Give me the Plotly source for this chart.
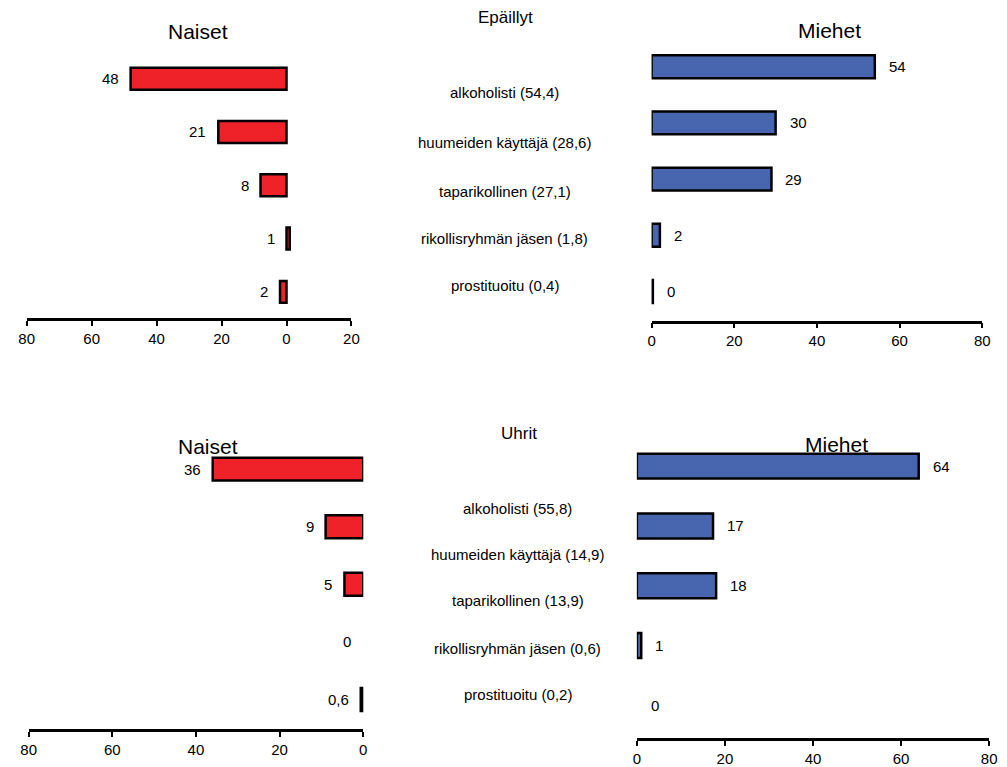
import plotly.graph_objects as go

# ---------------- data ----------------
categories_epaillyt = ["alkoholisti (54,4)", "huumeiden käyttäjä (28,6)", "taparikollinen (27,1)",
                       "rikollisryhmän jäsen (1,8)", "prostituoitu (0,4)"]
categories_uhrit = ["alkoholisti (55,8)", "huumeiden käyttäjä (14,9)", "taparikollinen (13,9)",
                    "rikollisryhmän jäsen (0,6)", "prostituoitu (0,2)"]

naiset_epaillyt = [48, 21, 8, -1, 2]
naiset_epaillyt_labels = ["48", "21", "8", "1", "2"]
miehet_epaillyt = [54, 30, 29, 2, 0.3]
miehet_epaillyt_labels = ["54", "30", "29", "2", "0"]

naiset_uhrit = [36, 9, 4.5, 0, 0.6]
naiset_uhrit_labels = ["36", "9", "5", "0", "0,6"]
miehet_uhrit = [64, 17.3, 18, 1, 0]
miehet_uhrit_labels = ["64", "17", "18", "1", "0"]

ticks_left_top = [80, 60, 40, 20, 0, -20]
ticks_left_top_text = ["80", "60", "40", "20", "0", "20"]
ticks_left_bottom = [80, 60, 40, 20, 0]
ticks_left_bottom_text = ["80", "60", "40", "20", "0"]
ticks_right = [0, 20, 40, 60, 80]
ticks_right_text = ["0", "20", "40", "60", "80"]

# ---------------- layout helpers ----------------
W, H = 1007, 767
RED = "#EE2228"
BLUE = "#4866AF"
FONT = "Liberation Sans, Arial, sans-serif"


def px(x):
    return x / W


def py(y):
    return 1 - y / H


panels = [
    dict(k="", vals=naiset_epaillyt, labs=naiset_epaillyt_labels, color=RED, side="left",
         xdom=(19, 349), xrange=[80, -20], tv=ticks_left_top, tt=ticks_left_top_text,
         axis_y=319, c0=79, sp=53.5, bh=22, title="Naiset", tpos=(193, 32)),
    dict(k="2", vals=miehet_epaillyt, labs=miehet_epaillyt_labels, color=BLUE, side="right",
         xdom=(654, 990), xrange=[0, 80], tv=ticks_right, tt=ticks_right_text,
         axis_y=322, c0=67, sp=56.4, bh=23, title="Miehet", tpos=(835, 31)),
    dict(k="3", vals=naiset_uhrit, labs=naiset_uhrit_labels, color=RED, side="left",
         xdom=(21, 361), xrange=[80, 0], tv=ticks_left_bottom, tt=ticks_left_bottom_text,
         axis_y=732, c0=471, sp=57.8, bh=23, title="Naiset", tpos=(203, 448)),
    dict(k="4", vals=miehet_uhrit, labs=miehet_uhrit_labels, color=BLUE, side="right",
         xdom=(639, 997), xrange=[0, 80], tv=ticks_right, tt=ticks_right_text,
         axis_y=741, c0=468, sp=60, bh=25, title="Miehet", tpos=(842, 446)),
]

fig = go.Figure()
annotations = []
layout = dict(
    width=W, height=H, margin=dict(l=0, r=0, t=0, b=0),
    paper_bgcolor="white", plot_bgcolor="white", showlegend=False,
    font=dict(family=FONT, color="black", size=15),
)

for p in panels:
    k = p["k"]
    idx = list(range(len(p["vals"])))
    line_w = [0 if v == 0 else 2.5 for v in p["vals"]]
    fig.add_trace(go.Bar(
        x=p["vals"], y=idx, orientation="h", width=p["bh"] / p["sp"],
        marker=dict(color=p["color"], line=dict(color="black", width=line_w)),
        xaxis="x" + k, yaxis="y" + k, hoverinfo="skip",
    ))
    bottom = (p["axis_y"] - p["c0"]) / p["sp"]
    top_px = p["c0"] - 0.6 * p["sp"]
    layout["xaxis" + k] = dict(
        domain=[px(p["xdom"][0]), px(p["xdom"][1])], range=p["xrange"],
        anchor="y" + k, tickvals=p["tv"], ticktext=p["tt"],
        showline=True, linecolor="black", linewidth=2.5,
        ticks="outside", ticklen=5, tickwidth=2, tickcolor="black",
        showgrid=False, zeroline=False, tickfont=dict(size=15, family=FONT),
        fixedrange=True,
    )
    layout["yaxis" + k] = dict(
        domain=[py(p["axis_y"]), py(top_px)], range=[bottom, -0.6],
        anchor="x" + k, visible=False, showgrid=False, zeroline=False, fixedrange=True,
    )
    for i, (v, lab) in enumerate(zip(p["vals"], p["labs"])):
        if p["side"] == "left":
            annotations.append(dict(
                x=max(v, 0), y=i, xref="x" + k, yref="y" + k, text=lab,
                showarrow=False, xanchor="right", yanchor="middle", xshift=-10,
                font=dict(size=15, family=FONT),
            ))
        else:
            annotations.append(dict(
                x=max(v, 0), y=i, xref="x" + k, yref="y" + k, text=lab,
                showarrow=False, xanchor="left", yanchor="middle", xshift=12,
                font=dict(size=15, family=FONT),
            ))
    annotations.append(dict(
        x=px(p["tpos"][0]), y=py(p["tpos"][1]), xref="paper", yref="paper",
        text=p["title"], showarrow=False, xanchor="center", yanchor="middle",
        font=dict(size=21, family=FONT),
    ))

# middle category texts
group_titles = ["Epäillyt", "Uhrit"]
group_title_pos = [(506, 18), (519, 435)]
cat_x = [505, 518]
cat_y = [[93, 143, 192, 239, 287], [510, 557, 603, 651, 697]]
for g, cats in enumerate([categories_epaillyt, categories_uhrit]):
    annotations.append(dict(
        x=px(group_title_pos[g][0]), y=py(group_title_pos[g][1]), xref="paper", yref="paper",
        text=group_titles[g], showarrow=False, xanchor="center", yanchor="middle",
        font=dict(size=17, family=FONT),
    ))
    for c, yy in zip(cats, cat_y[g]):
        annotations.append(dict(
            x=px(cat_x[g]), y=py(yy), xref="paper", yref="paper", text=c,
            showarrow=False, xanchor="center", yanchor="middle",
            font=dict(size=15, family=FONT),
        ))

layout["annotations"] = annotations
fig.update_layout(**layout)
fig.write_html(
    "out.html",
    config=dict(displayModeBar=False),
    post_script="document.body.style.margin='0';document.body.style.overflow='hidden';",
)
